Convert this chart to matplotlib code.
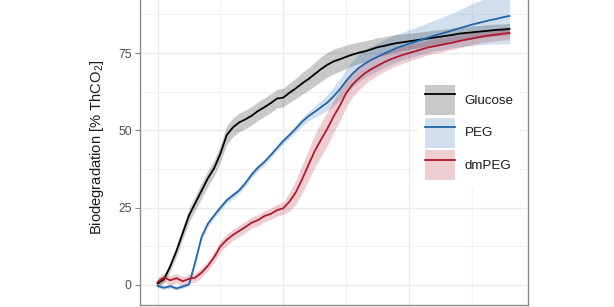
import numpy as np
import matplotlib
matplotlib.use("Agg")
import matplotlib.pyplot as plt
from matplotlib.patches import Patch
from matplotlib.lines import Line2D

plt.rcParams['font.family'] = ['Liberation Sans', 'DejaVu Sans']

# ---- data (days, % ThCO2) ----
days = [0.0, 0.5, 1.0, 1.5, 2.0, 2.5, 3.0, 3.5, 4.0, 4.5, 5.0, 5.5, 6.0, 6.5, 7.0, 7.5,
        8.0, 8.5, 9.0, 9.5, 10.0, 10.5, 11.0, 11.5, 12.0, 12.5, 13.0, 13.5, 14.0, 14.5,
        15.0, 15.5, 16.0, 16.5, 17.0, 17.5, 18.0, 18.5, 19.0, 19.5, 20.0, 20.5, 21.0,
        21.5, 22.0, 22.5, 23.0, 23.5, 24.0, 24.5, 25.0, 25.5, 26.0, 26.5, 27.0, 27.5, 28.0]

glucose = [0.5, 1.8, 6.0, 11.0, 16.8, 22.5, 26.5, 30.5, 34.5, 37.8, 42.5, 48.5, 51.0, 52.6,
           53.6, 54.8, 56.3, 57.5, 58.8, 60.3, 60.6, 62.2, 63.6, 65.2, 66.6, 68.2, 69.8, 71.2,
           72.3, 73.0, 73.8, 74.5, 75.1, 75.6, 76.2, 76.9, 77.3, 77.8, 78.2, 78.5, 78.8, 79.1,
           79.4, 79.7, 80.0, 80.3, 80.6, 80.9, 81.3, 81.5, 81.7, 81.9, 82.1, 82.3, 82.5, 82.6, 82.8]
glucose_se = [1.2, 1.2, 1.5, 1.8, 2.0, 2.2, 2.4, 2.5, 2.5, 2.6, 2.8, 3.0, 3.0, 3.0, 3.0, 3.0,
              3.0, 3.0, 3.0, 3.0, 3.0, 3.2, 3.3, 3.5, 3.6, 3.8, 4.0, 4.0, 4.0, 3.9, 3.8, 3.6,
              3.5, 3.4, 3.2, 3.1, 3.0, 2.9, 2.8, 2.7, 2.6, 2.5, 2.5, 2.4, 2.4, 2.3, 2.3, 2.2,
              2.2, 2.1, 2.1, 2.0, 2.0, 1.9, 1.9, 1.8, 1.8]

peg = [-0.3, -0.9, -0.4, -1.1, -0.5, 0.2, 7.5, 15.5, 19.8, 22.5, 25.0, 27.4, 29.0, 30.6,
       33.0, 35.8, 38.0, 39.8, 42.0, 44.3, 46.6, 48.5, 50.6, 52.8, 54.6, 56.0, 57.5, 59.0,
       61.0, 63.3, 66.0, 68.3, 70.2, 71.6, 72.8, 73.8, 74.8, 75.7, 76.6, 77.3, 78.0, 78.6,
       79.3, 80.0, 80.6, 81.2, 81.8, 82.4, 83.0, 83.6, 84.2, 84.7, 85.2, 85.7, 86.1, 86.6, 87.0]
peg_se = [0.6, 0.6, 0.6, 0.6, 0.6, 0.6, 0.8, 0.9, 1.0, 1.0, 1.0, 1.0, 1.0, 1.0, 1.0, 1.0,
          1.0, 1.0, 1.0, 1.0, 1.0, 1.1, 1.2, 1.4, 1.5, 1.8, 2.2, 2.6, 3.0, 3.4, 3.8, 4.2,
          4.5, 4.5, 4.5, 4.5, 4.5, 4.5, 4.5, 4.5, 4.5, 4.6, 4.7, 4.8, 5.0, 5.2, 5.4, 5.6,
          6.0, 6.3, 6.7, 7.0, 7.4, 7.8, 8.2, 8.6, 9.0]

dmpeg = [1.0, 2.5, 1.5, 2.2, 1.2, 2.0, 2.4, 4.0, 6.2, 9.0, 12.5, 14.6, 16.2, 17.5, 18.8,
         20.2, 21.0, 22.3, 23.0, 24.2, 24.8, 27.0, 30.0, 34.2, 38.8, 43.3, 47.0, 50.5, 54.5,
         58.0, 62.0, 64.8, 66.8, 68.5, 69.8, 70.9, 72.0, 72.9, 73.7, 74.4, 75.0, 75.6, 76.2,
         76.8, 77.2, 77.6, 78.0, 78.4, 78.9, 79.3, 79.7, 80.1, 80.5, 80.8, 81.0, 81.3, 81.5]
dmpeg_se = [1.5, 1.5, 1.5, 1.5, 1.5, 1.5, 1.5, 1.5, 1.6, 1.7, 1.8, 1.8, 1.8, 1.8, 1.8, 1.8,
            1.8, 1.8, 1.8, 1.9, 2.0, 3.0, 4.0, 4.5, 5.0, 5.3, 5.5, 5.5, 5.2, 5.0, 4.5, 4.0,
            3.7, 3.5, 3.3, 3.1, 3.0, 2.9, 2.8, 2.7, 2.6, 2.5, 2.4, 2.4, 2.3, 2.3, 2.2, 2.2,
            2.1, 2.1, 2.1, 2.0, 2.0, 2.0, 2.0, 2.0, 2.0]

labels = ["Glucose", "PEG", "dmPEG"]
colors = ["#000000", "#2166AC", "#B2182B"]
y_ticks = [0, 25, 50, 75]
y_tick_labels = ["0", "25", "50", "75"]

# ---- figure ----
W, H = 614, 307
fig = plt.figure(figsize=(W / 100, H / 100), dpi=100)
# panel: x 140..528 px, y from above the top (-10 px) to 305 px
ax = fig.add_axes([140 / W, (H - 305) / H, (528 - 140) / W, (305 + 10) / H])

x = np.array(days)
series = [glucose, peg, dmpeg]
ses = [glucose_se, peg_se, dmpeg_se]
for y, se, c in zip(series, ses, colors):
    y = np.array(y); se = np.array(se)
    ax.fill_between(x, y - se, y + se, color=c, alpha=0.21, lw=0, zorder=2)
for y, c in zip(series, colors):
    ax.plot(x, y, color=c, lw=1.3, zorder=3)

ax.set_xlim(-1.4, 29.47)
ax.set_ylim(-6.47, 95.4)

ax.set_yticks(y_ticks)
ax.set_yticklabels(y_tick_labels)
ax.set_yticks([12.5, 37.5, 62.5, 87.5], minor=True)
ax.set_xticks([0, 10, 20])
ax.set_xticks([5, 15, 25], minor=True)
ax.grid(which='major', color='#EBEBEB', lw=1.0, zorder=0)
ax.grid(which='minor', color='#F2F2F2', lw=0.8, zorder=0)
ax.set_axisbelow(True)

ax.tick_params(axis='x', which='both', length=0, labelbottom=False)
ax.tick_params(axis='y', which='major', length=3.5, width=0.8, color='#8A8A8A',
               labelsize=8.8, labelcolor='#4D4D4D', pad=2.5)
ax.tick_params(axis='y', which='minor', length=0)

for side in ['left', 'right', 'bottom', 'top']:
    ax.spines[side].set_color('#8A8A8A')
    ax.spines[side].set_linewidth(1.0)

ax.set_ylabel("Biodegradation [% ThCO$\\mathregular{_2}$]", fontsize=10.6,
              color='#1A1A1A', labelpad=9)

handles = []
for c in colors:
    handles.append((Patch(facecolor=c, alpha=0.21, edgecolor='none'),
                    Line2D([], [], color=c, lw=1.3)))
leg = ax.legend(handles, labels, loc='upper left',
                bbox_to_anchor=(418 / W, 1 - 78 / H), bbox_transform=fig.transFigure,
                fontsize=9.6, frameon=True, fancybox=False, framealpha=1,
                edgecolor='none', facecolor='white', borderpad=0.5,
                handlelength=2.3, handleheight=3.08, labelspacing=0.22,
                handletextpad=0.7, borderaxespad=0)
for t in leg.get_texts():
    t.set_color('#1A1A1A')
leg.set_zorder(5)

fig.savefig("out.png", dpi=100)
